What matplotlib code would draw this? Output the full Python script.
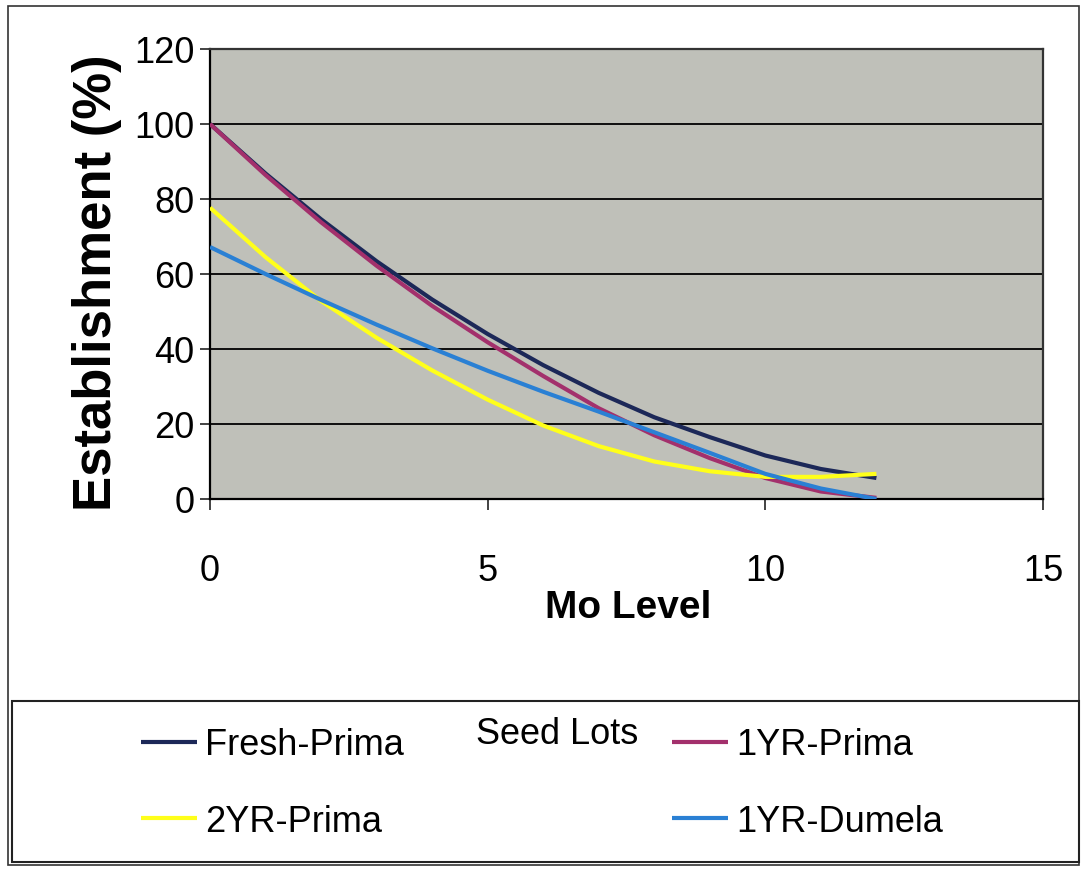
import matplotlib
matplotlib.use("Agg")
import matplotlib.pyplot as plt
from matplotlib import font_manager
from matplotlib.patches import Rectangle

# Mo level (x) and establishment (%) for each seed lot
mo_level = [0, 1, 2, 3, 4, 5, 6, 7, 8, 9, 10, 11, 12]
fresh_prima = [100, 86.8, 74.6, 63.4, 53.2, 44.0, 35.7, 28.3, 21.8, 16.5, 11.6, 8.0, 5.6]
yr1_prima = [100, 86.4, 73.8, 62.2, 51.5, 41.8, 32.8, 24.2, 17.0, 10.9, 5.6, 2.0, 0.3]
yr2_prima = [77.7, 64.5, 52.8, 43.0, 34.3, 26.5, 19.6, 14.1, 10.0, 7.4, 5.9, 5.9, 6.7]
yr1_dumela = [67.2, 60.0, 53.1, 46.5, 40.2, 34.2, 28.6, 23.3, 17.8, 12.3, 6.7, 2.8, 0.0]

series_names = ["Fresh-Prima", "1YR-Prima", "2YR-Prima", "1YR-Dumela"]
series_colors = ["#1c2858", "#a3306c", "#ffff1a", "#2a80d4"]

y_ticks = [0, 20, 40, 60, 80, 100, 120]
x_ticks = [0, 5, 10, 15]

installed = {f.name for f in font_manager.fontManager.ttflist}
narrow = "Liberation Sans Narrow" if "Liberation Sans Narrow" in installed else "Liberation Sans"
nsize = 30 if narrow == "Liberation Sans Narrow" else 26

W, H = 1082, 870
fig = plt.figure(figsize=(W / 100, H / 100), dpi=100)
fig.patch.set_facecolor("white")

ax = fig.add_axes([210 / W, 1 - 500 / H, (1043 - 210) / W, 450 / H])
ax.set_facecolor("#bfc0b9")

lines = []
for ys, c in zip([fresh_prima, yr1_prima, yr2_prima, yr1_dumela], series_colors):
    ln, = ax.plot(mo_level, ys, color=c, lw=3.0, solid_capstyle="butt", zorder=3)
    lines.append(ln)

ax.set_xlim(0, 15)
ax.set_ylim(0, 120)
ax.set_xticks(x_ticks)
ax.set_yticks(y_ticks)
ax.set_xticklabels([str(v) for v in x_ticks], family=narrow, fontsize=nsize)
ax.set_yticklabels([str(v) for v in y_ticks], family=narrow, fontsize=nsize)
ax.tick_params(axis="x", direction="out", length=8, width=1.2, pad=31, color="#222222")
ax.tick_params(axis="y", direction="out", length=7, width=1.2, pad=4, color="#222222")

for g in y_ticks[1:-1]:
    ax.axhline(g, color="black", lw=1.3, zorder=2)
for side in ["left", "bottom"]:
    ax.spines[side].set_color("black")
    ax.spines[side].set_linewidth(1.6)
for side in ["top", "right"]:
    ax.spines[side].set_color("#333333")
    ax.spines[side].set_linewidth(1.6)

fig.text(97 / W, 1 - 283 / H, "Establishment (%)", rotation=90, ha="center", va="center",
         family="Liberation Sans", fontweight="bold", fontsize=38)
fig.text(628 / W, 1 - 608 / H, "Mo Level", ha="center", va="center",
         family=narrow, fontweight="bold", fontsize=nsize + 2)

# outer frame and legend box
fig.patches.append(Rectangle((8 / W, 1 - 866 / H), (1079 - 8) / W, (866 - 7) / H,
                             transform=fig.transFigure, fill=False, ec="#333333", lw=1.2))
fig.patches.append(Rectangle((12 / W, 1 - 863 / H), (1079 - 12) / W, (863 - 702) / H,
                             transform=fig.transFigure, fill=False, ec="#222222", lw=1.5))

legend_kw = dict(frameon=False, loc="center left", borderpad=0, borderaxespad=0,
                 handlelength=1.55, handletextpad=0.22, labelspacing=1.15,
                 prop={"family": narrow, "size": nsize})
fig.legend([lines[0], lines[2]], [series_names[0], series_names[2]],
           bbox_to_anchor=(141 / W, 1 - 784 / H), **legend_kw)
fig.legend([lines[1], lines[3]], [series_names[1], series_names[3]],
           bbox_to_anchor=(672 / W, 1 - 784 / H), **legend_kw)
fig.text(557 / W, 1 - 735 / H, "Seed Lots", ha="center", va="center",
         family=narrow, fontsize=nsize)

fig.savefig("out.png", dpi=100)
